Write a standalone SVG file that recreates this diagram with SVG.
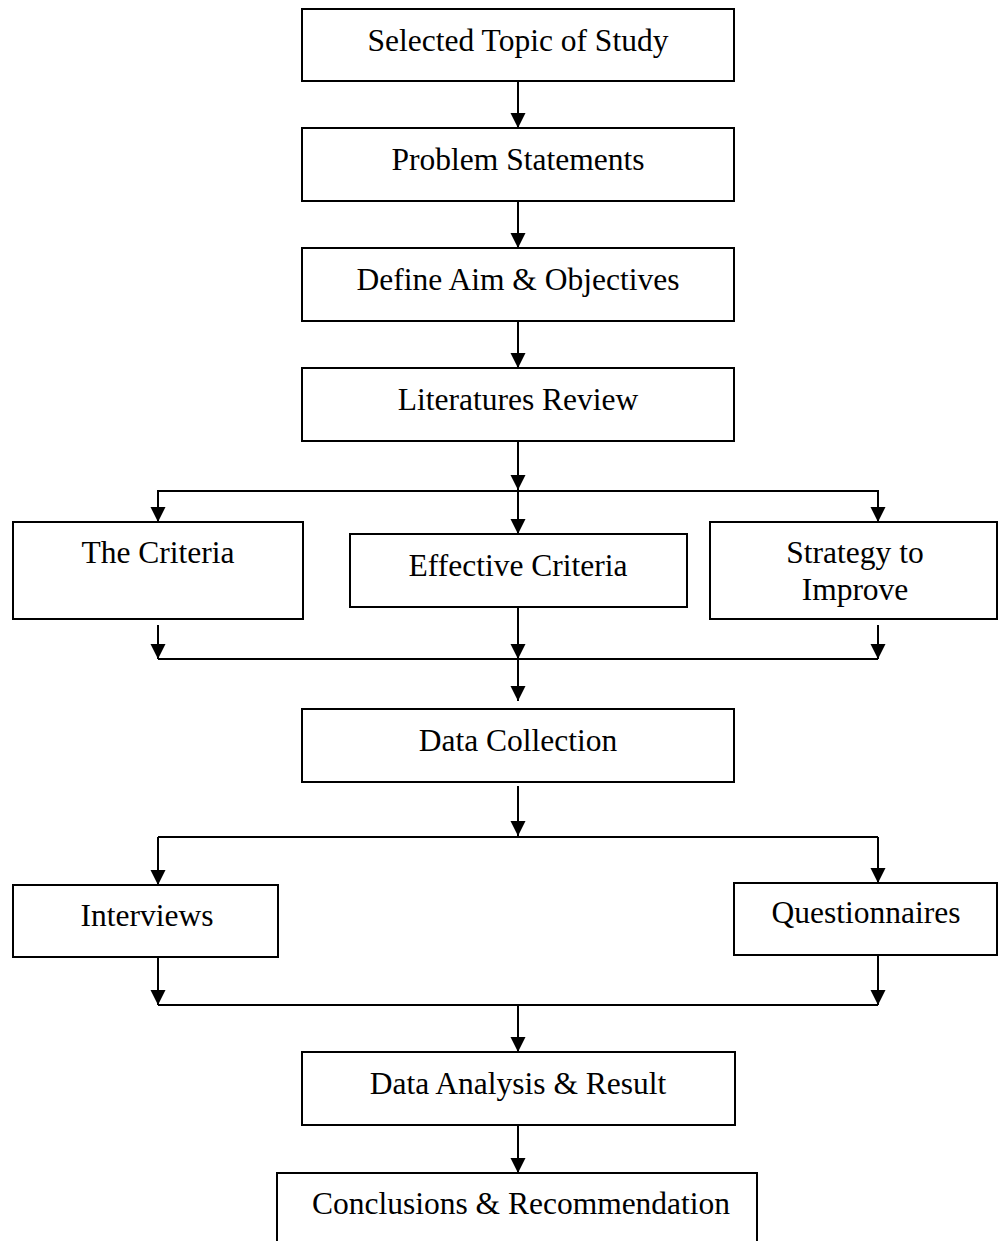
<svg xmlns="http://www.w3.org/2000/svg" width="998" height="1241" viewBox="0 0 998 1241">
<style>
.box{fill:#fff;stroke:#000;stroke-width:2}
.lbl{font-family:"Liberation Serif","Times New Roman",serif;font-size:31.5px;fill:#000;text-anchor:middle}
.con{fill:none;stroke:#000;stroke-width:2}
</style>
<defs>
<marker id="ah" markerUnits="userSpaceOnUse" markerWidth="16" markerHeight="16" refX="15" refY="7.5" orient="auto">
<path d="M0,0 L15,7.5 L0,15 z" fill="#000"/>
</marker>
</defs>
<rect width="998" height="1241" fill="#fff"/>
<g id="connectors">
<line class="con" x1="518" y1="81" x2="518" y2="128" marker-end="url(#ah)"/>
<line class="con" x1="518" y1="201" x2="518" y2="248" marker-end="url(#ah)"/>
<line class="con" x1="518" y1="321" x2="518" y2="368" marker-end="url(#ah)"/>
<line class="con" x1="518" y1="441" x2="518" y2="490" marker-end="url(#ah)"/>
<line class="con" x1="518" y1="491" x2="518" y2="534" marker-end="url(#ah)"/>
<polyline class="con" points="158,522 158,491 878,491 878,522"/>
<line class="con" x1="158" y1="491" x2="158" y2="522" marker-end="url(#ah)"/>
<line class="con" x1="878" y1="491" x2="878" y2="522" marker-end="url(#ah)"/>
<line class="con" x1="158" y1="625" x2="158" y2="659" marker-end="url(#ah)"/>
<line class="con" x1="518" y1="607" x2="518" y2="659" marker-end="url(#ah)"/>
<line class="con" x1="878" y1="625" x2="878" y2="659" marker-end="url(#ah)"/>
<line class="con" x1="158" y1="659" x2="878" y2="659"/>
<line class="con" x1="518" y1="659" x2="518" y2="701" marker-end="url(#ah)"/>
<line class="con" x1="518" y1="786" x2="518" y2="836" marker-end="url(#ah)"/>
<line class="con" x1="158" y1="837" x2="878" y2="837"/>
<line class="con" x1="158" y1="837" x2="158" y2="885" marker-end="url(#ah)"/>
<line class="con" x1="878" y1="837" x2="878" y2="883" marker-end="url(#ah)"/>
<line class="con" x1="158" y1="957" x2="158" y2="1005" marker-end="url(#ah)"/>
<line class="con" x1="878" y1="956" x2="878" y2="1005" marker-end="url(#ah)"/>
<line class="con" x1="158" y1="1005" x2="878" y2="1005"/>
<line class="con" x1="518" y1="1005" x2="518" y2="1052" marker-end="url(#ah)"/>
<line class="con" x1="518" y1="1125" x2="518" y2="1173" marker-end="url(#ah)"/>
</g>
<g id="n1"><rect class="box" x="302" y="9" width="432" height="72"/><text class="lbl" x="518" y="51">Selected Topic of Study</text></g>
<g id="n2"><rect class="box" x="302" y="128" width="432" height="73"/><text class="lbl" x="518" y="170">Problem Statements</text></g>
<g id="n3"><rect class="box" x="302" y="248" width="432" height="73"/><text class="lbl" x="518" y="290">Define Aim &amp; Objectives</text></g>
<g id="n4"><rect class="box" x="302" y="368" width="432" height="73"/><text class="lbl" x="518" y="410">Literatures Review</text></g>
<g id="n5"><rect class="box" x="13" y="522" width="290" height="97"/><text class="lbl" x="158" y="563">The Criteria</text></g>
<g id="n6"><rect class="box" x="350" y="534" width="337" height="73"/><text class="lbl" x="518" y="576">Effective Criteria</text></g>
<g id="n7"><rect class="box" x="710" y="522" width="287" height="97"/><text class="lbl" x="855" y="563">Strategy to</text><text class="lbl" x="855" y="600">Improve</text></g>
<g id="n8"><rect class="box" x="302" y="709" width="432" height="73"/><text class="lbl" x="518" y="751">Data Collection</text></g>
<g id="n9"><rect class="box" x="13" y="885" width="265" height="72"/><text class="lbl" x="147" y="926">Interviews</text></g>
<g id="n10"><rect class="box" x="734" y="883" width="263" height="72"/><text class="lbl" x="866" y="923">Questionnaires</text></g>
<g id="n11"><rect class="box" x="302" y="1052" width="433" height="73"/><text class="lbl" x="518" y="1094">Data Analysis &amp; Result</text></g>
<g id="n12"><rect class="box" x="277" y="1173" width="480" height="80"/><text class="lbl" x="521" y="1214">Conclusions &amp; Recommendation</text></g>
</svg>
